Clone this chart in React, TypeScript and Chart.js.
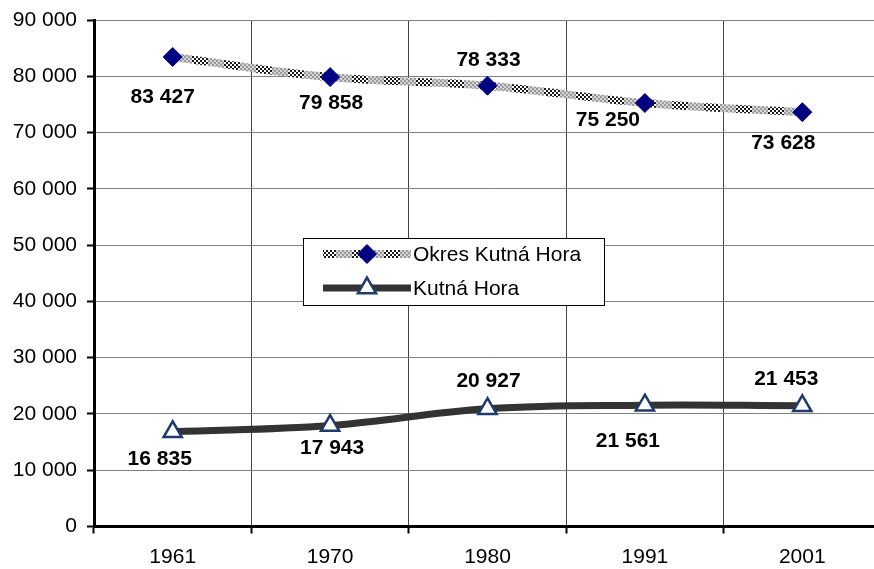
import React, { useEffect, useRef } from "react";
import { Chart, registerables } from "chart.js";

Chart.register(...registerables);

const years = ["1961", "1970", "1980", "1991", "2001"];
const okresValues = [83427, 79858, 78333, 75250, 73628];
const mestoValues = [16835, 17943, 20927, 21561, 21453];
const seriesNames = ["Okres Kutná Hora", "Kutná Hora"];
const yMin = 0;
const yMax = 90000;
const yStep = 10000;

const FONT = "'Liberation Sans', Arial, sans-serif";
const CANVAS_W = 894;
const CANVAS_H = 569;

function fmt(v: number): string {
  return String(Math.round(v)).replace(/\B(?=(\d{3})+(?!\d))/g, " ");
}

function makePattern(): CanvasPattern | string {
  const c = document.createElement("canvas");
  c.width = 32;
  c.height = 4;
  const g = c.getContext("2d");
  if (!g) return "#888";
  for (let x = 0; x < 32; x += 2) {
    for (let y = 0; y < 4; y += 2) {
      const odd = ((x / 2 + y / 2) % 2) === 0;
      if (x < 16) g.fillStyle = odd ? "#1a1a1a" : "#ffffff";
      else g.fillStyle = odd ? "#9a9a9a" : "#d4d4d4";
      g.fillRect(x, y, 2, 2);
    }
  }
  const p = g.createPattern(c, "repeat");
  return p || "#888";
}

function drawMarker(ctx: CanvasRenderingContext2D, style: string, x: number, y: number, r: number, fill: string, stroke: string, bw: number) {
  ctx.save();
  ctx.beginPath();
  if (style === "rectRot") {
    ctx.moveTo(x, y - r);
    ctx.lineTo(x + r, y);
    ctx.lineTo(x, y + r);
    ctx.lineTo(x - r, y);
  } else {
    const a = (2 * Math.PI) / 3;
    for (let i = 0; i < 3; i++) {
      const ang = i * a;
      const px = x + Math.sin(ang) * r;
      const py = y - Math.cos(ang) * r;
      if (i === 0) ctx.moveTo(px, py);
      else ctx.lineTo(px, py);
    }
  }
  ctx.closePath();
  ctx.fillStyle = fill;
  ctx.fill();
  ctx.lineWidth = bw;
  ctx.strokeStyle = stroke;
  ctx.stroke();
  ctx.restore();
}

const dataLabelPlugin = {
  id: "dataLabelsCustom",
  afterDatasetsDraw(chart: any, _args: any, opts: any) {
    const ctx = chart.ctx as CanvasRenderingContext2D;
    ctx.save();
    ctx.font = `bold 21px ${FONT}`;
    ctx.fillStyle = "#000";
    ctx.textAlign = "center";
    ctx.textBaseline = "middle";
    chart.data.datasets.forEach((ds: any, di: number) => {
      const meta = chart.getDatasetMeta(di);
      const offs = opts.offsets[di] || [];
      meta.data.forEach((pt: any, i: number) => {
        const o = offs[i] || [0, -20];
        ctx.fillText(fmt(ds.data[i]), pt.x + o[0], pt.y + o[1]);
      });
    });
    ctx.restore();
  },
};

const legendPlugin = {
  id: "legendCustom",
  afterDraw(chart: any, _args: any, opts: any) {
    const ctx = chart.ctx as CanvasRenderingContext2D;
    const { x, y, w, h } = opts.box;
    ctx.save();
    ctx.fillStyle = "#fff";
    ctx.fillRect(x, y, w, h);
    ctx.strokeStyle = "#000";
    ctx.lineWidth = 1;
    ctx.strokeRect(x + 0.5, y + 0.5, w, h);
    const rows = opts.rows as number[];
    chart.data.datasets.forEach((ds: any, i: number) => {
      const ry = y + rows[i];
      ctx.beginPath();
      ctx.moveTo(x + opts.lineStart, ry);
      ctx.lineTo(x + opts.lineEnd, ry);
      ctx.strokeStyle = ds.borderColor;
      ctx.lineWidth = ds.borderWidth;
      ctx.stroke();
      drawMarker(ctx, ds.pointStyle, x + (opts.lineStart + opts.lineEnd) / 2, ry, ds.pointRadius, ds.pointBackgroundColor, ds.pointBorderColor, ds.pointBorderWidth);
      ctx.fillStyle = "#000";
      ctx.font = `21px ${FONT}`;
      ctx.textAlign = "left";
      ctx.textBaseline = "middle";
      ctx.fillText(ds.label, x + opts.textStart, ry + 1);
    });
    ctx.restore();
  },
};

export default function App() {
  const ref = useRef<HTMLCanvasElement | null>(null);

  useEffect(() => {
    document.body.style.overflow = "hidden";
    document.documentElement.style.overflow = "hidden";
    const canvas = ref.current;
    if (!canvas) return;
    const pattern = makePattern();
    const chart = new Chart(canvas, {
      type: "line",
      data: {
        labels: years,
        datasets: [
          {
            label: seriesNames[0],
            data: okresValues,
            borderColor: pattern as any,
            borderWidth: 8,
            tension: 0.4,
            pointStyle: "rectRot",
            pointRadius: 9.5,
            pointHoverRadius: 9.5,
            pointBackgroundColor: "#000080",
            pointBorderColor: "#000080",
            pointBorderWidth: 1,
            fill: false,
          },
          {
            label: seriesNames[1],
            data: mestoValues,
            borderColor: "#333333",
            borderWidth: 7,
            tension: 0.4,
            pointStyle: "triangle",
            pointRadius: 10.5,
            pointHoverRadius: 10.5,
            pointBackgroundColor: "#ffffff",
            pointBorderColor: "#1F3B6B",
            pointBorderWidth: 2.5,
            fill: false,
          },
        ],
      },
      options: {
        responsive: false,
        animation: false,
        devicePixelRatio: 1,
        events: [],
        layout: { padding: { top: 20, right: 1, left: 0, bottom: 0 } },
        plugins: {
          legend: { display: false },
          tooltip: { enabled: false },
          dataLabelsCustom: {
            offsets: [
              [[-10, 40], [1, 26], [1, -25], [-37, 17], [-19, 31]],
              [[-13, 27], [2, 23], [1, -28], [-17, 36], [-16, -27]],
            ],
          },
          legendCustom: {
            box: { x: 303, y: 238, w: 301, h: 67 },
            rows: [16, 50],
            lineStart: 20,
            lineEnd: 108,
            textStart: 110,
          },
        } as any,
        scales: {
          x: {
            type: "category",
            offset: true,
            grid: {
              offset: true,
              color: "#444444",
              lineWidth: 1,
              drawTicks: true,
              tickLength: 7,
              tickColor: "#000",
              tickWidth: 2,
            },
            border: { display: true, color: "#000", width: 3 },
            ticks: {
              color: "#000",
              font: { family: FONT, size: 21 },
              padding: 11,
              maxRotation: 0,
              minRotation: 0,
            },
            afterFit: (s: any) => {
              s.height = 42.5;
              s.paddingLeft = 0;
              s.paddingRight = 0;
            },
          },
          y: {
            min: yMin,
            max: yMax,
            grid: {
              color: "#808080",
              lineWidth: 1,
              drawTicks: true,
              tickLength: 7,
              tickColor: "#000",
              tickWidth: 2,
            },
            border: { display: true, color: "#000", width: 3 },
            ticks: {
              stepSize: yStep,
              color: "#000",
              font: { family: FONT, size: 21 },
              padding: 10,
              callback: (v: any) => fmt(Number(v)),
            },
            afterFit: (s: any) => {
              s.width = 94;
              s.paddingTop = 0;
              s.paddingBottom = 0;
            },
          },
        },
      },
      plugins: [dataLabelPlugin, legendPlugin],
    });
    return () => chart.destroy();
  }, []);

  return (
    <div style={{ position: "fixed", left: 0, top: 0, width: CANVAS_W, height: CANVAS_H, background: "#fff" }}>
      <canvas ref={ref} width={CANVAS_W} height={CANVAS_H} style={{ width: CANVAS_W, height: CANVAS_H, display: "block" }} />
    </div>
  );
}
